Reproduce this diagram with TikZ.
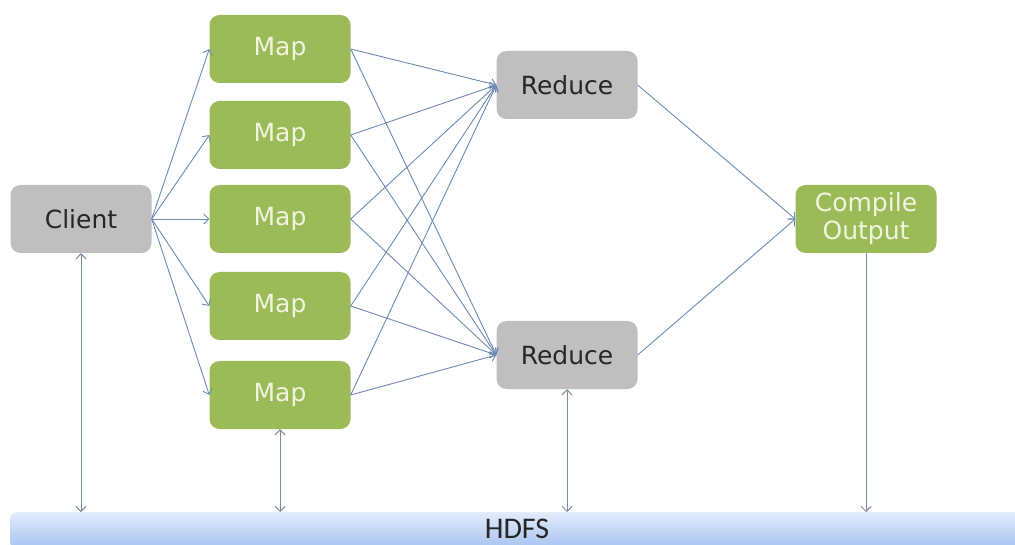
\documentclass[tikz,border=0pt]{standalone}
\usepackage{fontspec}
\setmainfont{DejaVu Sans}
\newfontfamily\barfont{Carlito}
\usepackage{xcolor}
\usepackage{tikz}
\usetikzlibrary{arrows.meta,positioning}
\definecolor{mapgreen}{HTML}{9BBB59}
\definecolor{maptext}{HTML}{F1F5DC}
\definecolor{boxgray}{HTML}{BFBFBF}
\definecolor{link}{HTML}{6C8BB2}
\definecolor{vlink}{HTML}{7D8C9C}
\definecolor{bartop}{HTML}{E2ECFB}
\definecolor{barbot}{HTML}{A6C3F0}

\begin{document}
\begin{tikzpicture}[x=1pt,y=-1pt,
  box/.style={rounded corners=10pt,minimum width=141pt,minimum height=68pt,
              inner sep=0pt,align=center,font=\fontsize{25}{28}\selectfont},
  mapbox/.style={box,fill=mapgreen,text=maptext},
  graybox/.style={box,fill=boxgray,text=black!85},
  arr/.style={-{Straight Barb[length=5pt,width=10pt]},draw=link,line width=0.9pt},
  varr/.style={{Straight Barb[length=5pt,width=10pt]}-{Straight Barb[length=5pt,width=10pt]},
               draw=vlink,line width=1pt},
  bar/.style={rounded corners=6pt,top color=bartop,bottom color=barbot,draw=none,
              minimum width=1020pt,minimum height=36pt,inner sep=0pt}
]
\fill[white] (0,0) rectangle (1015,545);
\useasboundingbox (0,0) rectangle (1015,545);

\node[graybox] (client) at (81,219) {Client};
\node[mapbox] (m1) at (280,49) {Map};
\node[mapbox] (m2) at (280,135) {Map};
\node[mapbox] (m3) at (280,219) {Map};
\node[mapbox] (m4) at (280,306) {Map};
\node[mapbox] (m5) at (280,395) {Map};
\node[graybox] (r1) at (567,85) {Reduce};
\node[graybox] (r2) at (567,355) {Reduce};
\node[mapbox] (out) at (866,219) {Compile\\Output};
\node[bar,anchor=north west] (hdfs) at (10,512) {};
\node[font=\barfont\fontsize{30}{32}\selectfont,text=black!85] (hdfslbl) at (517,529) {HDFS};

% client -> maps
\foreach \m in {m1,m2,m3,m4,m5}
  \draw[arr] (client.east) -- (\m.west);
% maps -> reducers
\foreach \m in {m1,m2,m3,m4,m5} {
  \draw[arr] (\m.east) -- (r1.west);
  \draw[arr] (\m.east) -- (r2.west);
}
\draw[arr] (r1.east) -- (out.west);
\draw[arr] (r2.east) -- (out.west);

% to and from HDFS
\draw[varr] (client.south) -- (client.south |- hdfs.north);
\draw[varr] (m5.south) -- (m5.south |- hdfs.north);
\draw[varr] (r2.south) -- (r2.south |- hdfs.north);
\draw[arr,draw=vlink,line width=1pt] (out.south) -- (out.south |- hdfs.north);
\end{tikzpicture}
\end{document}
